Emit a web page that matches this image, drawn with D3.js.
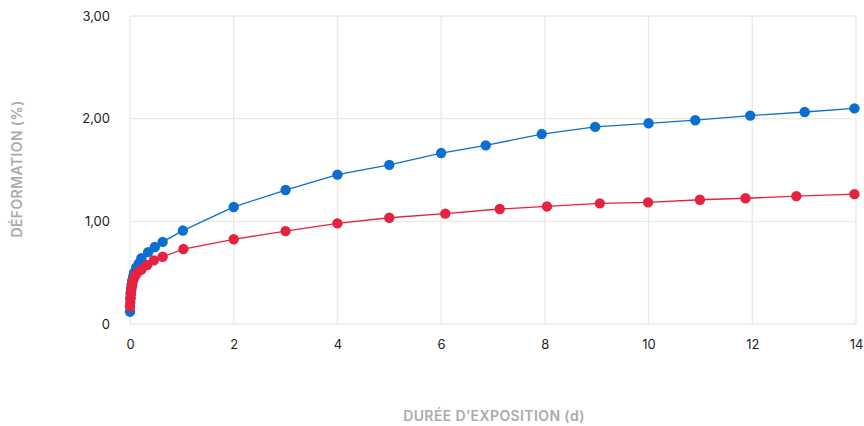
<!DOCTYPE html>
<html>
<head>
<meta charset="utf-8">
<script src="https://cdn.jsdelivr.net/npm/d3@7"></script>
<style>
  html, body { margin: 0; padding: 0; background: #fff; }
  svg { display: block; }
  .tick text { font-family: Inter, Roboto, sans-serif; font-size: 13px; fill: #222; }
  .axis-title { font-family: Inter, Roboto, sans-serif; font-size: 14px; font-weight: 600; fill: #ababab; letter-spacing: 0.4px; }
</style>
</head>
<body>
<svg id="chart" width="864" height="426"></svg>
<script>
// Creep deformation (%) versus exposure time (days), two specimens
const seriesA_days = [0, 0.007, 0.014, 0.021, 0.03, 0.04, 0.06, 0.08, 0.12, 0.17, 0.22, 0.35, 0.48, 0.63, 1.02,
  2.0, 3.0, 4.0, 5.0, 6.0, 6.86, 7.94, 8.97, 10.0, 10.9, 11.96, 13.01, 13.97];
const seriesA_strain = [0.12, 0.25, 0.30, 0.34, 0.38, 0.42, 0.46, 0.50, 0.55, 0.59, 0.64, 0.70, 0.75, 0.80, 0.91,
  1.14, 1.305, 1.455, 1.55, 1.665, 1.74, 1.85, 1.92, 1.955, 1.985, 2.03, 2.065, 2.10];

const seriesB_days = [0, 0.005, 0.01, 0.015, 0.02, 0.03, 0.04, 0.05, 0.07, 0.1, 0.14, 0.22, 0.33, 0.46, 0.63, 1.03,
  2.0, 3.0, 4.0, 5.0, 6.08, 7.13, 8.04, 9.06, 9.99, 10.99, 11.87, 12.85, 13.97];
const seriesB_strain = [0.17, 0.21, 0.25, 0.29, 0.32, 0.35, 0.38, 0.41, 0.44, 0.47, 0.50, 0.53, 0.575, 0.62, 0.655, 0.73,
  0.825, 0.905, 0.98, 1.035, 1.075, 1.12, 1.145, 1.175, 1.185, 1.21, 1.225, 1.245, 1.265];

const xTicks = [0, 2, 4, 6, 8, 10, 12, 14];
const yTicks = [0, 1, 2, 3];
const xTitle = "DURÉE D’EXPOSITION (d)";
const yTitle = "DÉFORMATION (%)";

const colorA = "#0a6fd1";
const colorB = "#e5223f";

const svg = d3.select("#chart");
const margin = { left: 130, right: 8, top: 16, bottom: 102 };
const W = 864, H = 426;

const x = d3.scaleLinear().domain([0, 14]).range([margin.left, W - margin.right]);
const y = d3.scaleLinear().domain([0, 3]).range([H - margin.bottom, margin.top]);

const gridColor = "#ece9e4";

// Grid
svg.append("g").selectAll("line").data(xTicks).join("line")
  .attr("x1", d => x(d)).attr("x2", d => x(d))
  .attr("y1", y(0)).attr("y2", y(3))
  .attr("stroke", gridColor).attr("stroke-width", 1.3);
svg.append("g").selectAll("line").data(yTicks).join("line")
  .attr("x1", x(0)).attr("x2", x(14))
  .attr("y1", d => y(d)).attr("y2", d => y(d))
  .attr("stroke", gridColor).attr("stroke-width", 1.3);

// Axes (labels only)
const fmtY = d => d === 0 ? "0" : d3.format(".2f")(d).replace(".", ",");
const xAxis = svg.append("g")
  .attr("transform", `translate(0,${y(0)})`)
  .call(d3.axisBottom(x).tickValues(xTicks).tickSize(0).tickPadding(16));
xAxis.select(".domain").remove();

const yAxis = svg.append("g")
  .attr("transform", `translate(${x(0)},0)`)
  .call(d3.axisLeft(y).tickValues(yTicks).tickFormat(fmtY).tickSize(0).tickPadding(20));
yAxis.select(".domain").remove();

// Titles
svg.append("text").attr("class", "axis-title")
  .attr("x", 494).attr("y", 421).attr("text-anchor", "middle").text(xTitle);
svg.append("text").attr("class", "axis-title")
  .attr("transform", `translate(22,169) rotate(-90)`)
  .attr("text-anchor", "middle").text(yTitle);

// Series
function drawSeries(xs, ys, color) {
  const pts = xs.map((d, i) => [d, ys[i]]);
  const line = d3.line().x(d => x(d[0])).y(d => y(d[1]));
  svg.append("path").datum(pts)
    .attr("d", line).attr("fill", "none")
    .attr("stroke", color).attr("stroke-width", 1.3);
  svg.append("g").selectAll("circle").data(pts).join("circle")
    .attr("cx", d => x(d[0])).attr("cy", d => y(d[1]))
    .attr("r", 5.2).attr("fill", color);
}
drawSeries(seriesA_days, seriesA_strain, colorA);
drawSeries(seriesB_days, seriesB_strain, colorB);
</script>
</body>
</html>
